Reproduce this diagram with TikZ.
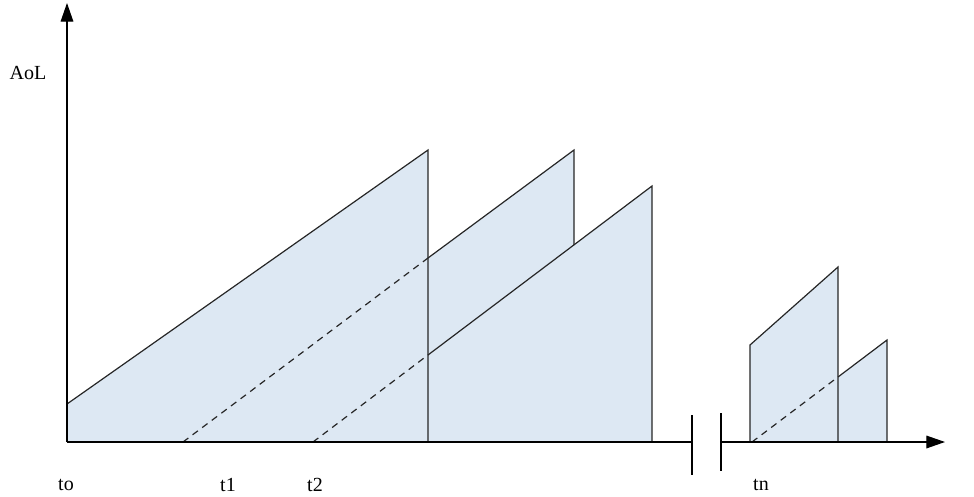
\documentclass[tikz,border=0pt]{standalone}
\usepackage{fontspec}
\setmainfont{Liberation Serif}
\usetikzlibrary{arrows.meta}
\definecolor{aolblue}{HTML}{DDE8F3}
\definecolor{aolline}{HTML}{262626}
\tikzset{
  aolfill/.style={fill=aolblue},
  aoledge/.style={draw=aolline, line width=0.9pt, line join=miter},
  aoldash/.style={draw=aolline, line width=0.9pt, dash pattern=on 5pt off 4pt},
  axisline/.style={draw=black, line width=0.9pt},
  axisarrow/.style={axisline, -{Triangle[length=14pt,width=9.5pt]}},
  lbl/.style={font=\fontsize{15}{18}\selectfont, inner sep=0pt, text=black}
}
\begin{document}
\begin{tikzpicture}[x=0.75pt,y=-0.75pt]
\useasboundingbox (0,0) rectangle (974,496);
% coordinates
\coordinate (O) at (67,442);
\coordinate (Ytop) at (67,3);
\coordinate (B1) at (692,442);
\coordinate (B2) at (721,442);
\coordinate (Xend) at (945,442);
% fills
\fill[aolfill] (67,442) -- (67,404) -- (428,150) -- (428,442) -- cycle;
\fill[aolfill] (428,442) -- (428,258) -- (574,150) -- (574,442) -- cycle;
\fill[aolfill] (574,442) -- (574,245) -- (652,186) -- (652,442) -- cycle;
\fill[aolfill] (750,442) -- (750,345) -- (838,267) -- (838,442) -- cycle;
\fill[aolfill] (838,442) -- (838,377) -- (887,340) -- (887,442) -- cycle;
% sawtooth edges
\draw[aoledge] (67,404) -- (428,150) -- (428,442);
\draw[aoldash] (183,442) -- (428,258);
\draw[aoledge] (428,258) -- (574,150) -- (574,245);
\draw[aoldash] (313,442) -- (428,355);
\draw[aoledge] (428,355) -- (652,186) -- (652,442);
\draw[aoledge] (750,442) -- (750,345) -- (838,267) -- (838,442);
\draw[aoldash] (752,442) -- (838,377);
\draw[aoledge] (838,377) -- (887,340) -- (887,442);
% axes
\draw[axisarrow] (O) -- (Ytop);
\draw[axisline] (O) -- (B1);
\draw[axisline] (692,415) -- (692,475);
\draw[axisline] (721,413) -- (721,471);
\draw[axisarrow] (B2) -- (Xend);
% labels
\node[lbl] (aol) at (28,73) {AoL};
\node[lbl] (to) at (66,485) {to};
\node[lbl] (t1) at (228,485) {t1};
\node[lbl] (t2) at (315,485) {t2};
\node[lbl] (tn) at (761,485) {tn};
\node[lbl] (tlast) at (978,485) {t};
\end{tikzpicture}
\end{document}
